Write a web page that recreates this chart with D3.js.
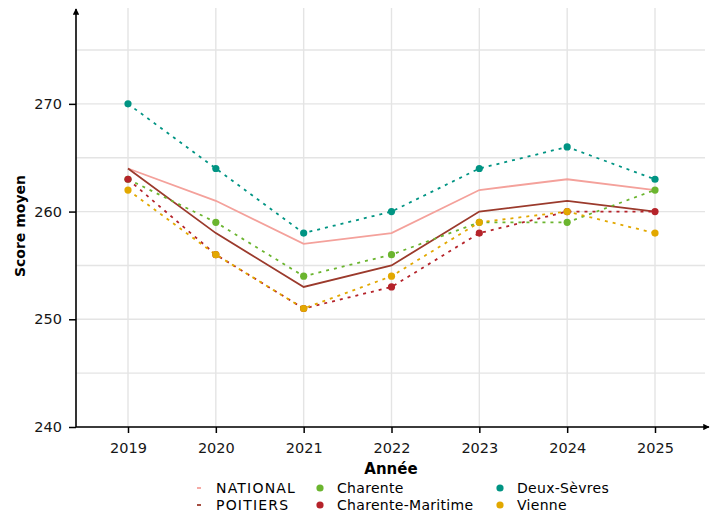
<!DOCTYPE html>
<html><head><meta charset="utf-8">
<script src="https://cdn.jsdelivr.net/npm/d3@7"></script>
<style>body{margin:0;background:#fff}svg{display:block}text{font-family:"DejaVu Sans",sans-serif}</style>
</head><body><div id="chart"></div>
<script>
const years = [2019, 2020, 2021, 2022, 2023, 2024, 2025];
const national = [264, 261, 257, 258, 262, 263, 262];
const poitiers = [264, 258, 253, 255, 260, 261, 260];
const charente = [263, 259, 254, 256, 259, 259, 262];
const charenteMaritime = [263, 256, 251, 253, 258, 260, 260];
const deuxSevres = [270, 264, 258, 260, 264, 266, 263];
const vienne = [262, 256, 251, 254, 259, 260, 258];
const yTicks = [240, 250, 260, 270];
const yMinor = [245, 255, 265, 275];

const lineSeries = [
  {name: "NATIONAL", values: national, color: "#f4a19b"},
  {name: "POITIERS", values: poitiers, color: "#9b3a2c"}
];
const pointSeries = [
  {name: "Charente", values: charente, color: "#6bb52f"},
  {name: "Charente-Maritime", values: charenteMaritime, color: "#b5232a"},
  {name: "Deux-Sèvres", values: deuxSevres, color: "#009483"},
  {name: "Vienne", values: vienne, color: "#e2a800"}
];

const W = 720, H = 518;
const svg = d3.select("#chart").append("svg").attr("width", W).attr("height", H);
const pL = 76, pR = 705, pT = 8, pB = 427;
const x = d3.scalePoint().domain(years).range([128, 655]);
const y = d3.scaleLinear().domain([240, 278.9]).range([pB, pT]);

// grid
const grid = svg.append("g");
[...yTicks, ...yMinor].forEach(v => {
  grid.append("line").attr("x1", pL).attr("x2", pR).attr("y1", y(v)).attr("y2", y(v))
    .attr("stroke", "#e4e4e4").attr("stroke-width", 1.4);
});
years.forEach(v => {
  grid.append("line").attr("x1", x(v)).attr("x2", x(v)).attr("y1", pT).attr("y2", pB)
    .attr("stroke", "#e4e4e4").attr("stroke-width", 1.4);
});

// lines
const line = d3.line().x((d, i) => x(years[i])).y(d => y(d));
lineSeries.forEach(s => {
  svg.append("path").attr("d", line(s.values)).attr("fill", "none")
    .attr("stroke", s.color).attr("stroke-width", 1.8);
});
pointSeries.forEach(s => {
  svg.append("path").attr("d", line(s.values)).attr("fill", "none")
    .attr("stroke", s.color).attr("stroke-width", 1.8).attr("stroke-dasharray", "3,5");
});
pointSeries.forEach(s => {
  svg.append("g").selectAll("circle").data(s.values).join("circle")
    .attr("cx", (d, i) => x(years[i])).attr("cy", d => y(d)).attr("r", 3.6)
    .attr("fill", s.color);
});

// axes
const xAxis = svg.append("g").attr("transform", `translate(0,${pB})`)
  .call(d3.axisBottom(x).tickSize(6).tickPadding(4));
xAxis.select(".domain").remove();
const yAxis = svg.append("g").attr("transform", `translate(${pL},0)`)
  .call(d3.axisLeft(y).tickValues(yTicks).tickSize(7).tickPadding(7));
yAxis.select(".domain").remove();
[xAxis, yAxis].forEach(a => {
  a.selectAll("line").attr("stroke", "#000").attr("stroke-width", 1.5);
  a.selectAll("text").attr("font-size", 14.5).attr("fill", "#161616")
    .attr("font-family", "DejaVu Sans");
});
xAxis.selectAll("text").attr("dy", "1.1em");

// axis lines with arrows
svg.append("defs").append("marker").attr("id", "arr").attr("viewBox", "0 0 10 10")
  .attr("refX", 9).attr("refY", 5).attr("markerWidth", 4).attr("markerHeight", 4)
  .attr("orient", "auto-start-reverse").append("path").attr("d", "M0,0L10,5L0,10z").attr("fill", "#000");
svg.append("line").attr("x1", pL).attr("x2", 709).attr("y1", pB).attr("y2", pB)
  .attr("stroke", "#000").attr("stroke-width", 1.6).attr("marker-end", "url(#arr)");
svg.append("line").attr("x1", pL).attr("x2", pL).attr("y1", pB).attr("y2", 9)
  .attr("stroke", "#000").attr("stroke-width", 1.6).attr("marker-end", "url(#arr)");

// titles
svg.append("text").attr("x", 391).attr("y", 474).attr("text-anchor", "middle")
  .attr("font-family", "Open Sans").attr("font-size", 15).attr("font-weight", "bold").text("Année");
svg.append("text").attr("transform", `translate(25,226) rotate(-90)`)
  .attr("text-anchor", "middle").attr("font-family", "Open Sans")
  .attr("font-size", 14).attr("font-weight", "bold").text("Score moyen");

// legend
const lg = svg.append("g");
const rows = [488, 505];
lineSeries.forEach((s, i) => {
  lg.append("line").attr("x1", 197).attr("x2", 201).attr("y1", rows[i]).attr("y2", rows[i])
    .attr("stroke", s.color).attr("stroke-width", 1.8);
  lg.append("text").attr("x", 216).attr("y", rows[i]).attr("dy", "0.35em").attr("font-size", 14)
    .attr("letter-spacing", 1.2).text(s.name);
});
const cols = [320, 500];
pointSeries.forEach((s, i) => {
  const cx = cols[Math.floor(i / 2)], cy = rows[i % 2];
  lg.append("circle").attr("cx", cx).attr("cy", cy).attr("r", 3.6).attr("fill", s.color);
  lg.append("text").attr("x", cx + 17).attr("y", cy).attr("dy", "0.35em").attr("font-size", 14)
    .attr("letter-spacing", 0.3).text(s.name);
});
</script></body></html>
